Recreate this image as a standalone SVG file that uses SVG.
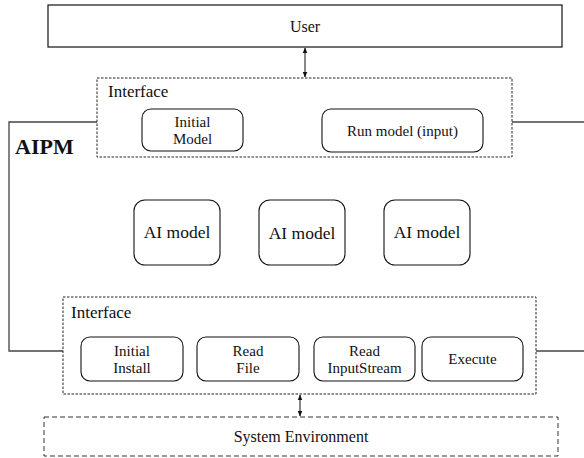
<svg xmlns="http://www.w3.org/2000/svg" width="584" height="458" viewBox="0 0 584 458">
<defs>
<style>
text{font-family:"Liberation Serif","Times New Roman","DejaVu Serif",serif;fill:#111;text-anchor:middle}
.box{fill:#fff;stroke:#111;stroke-width:1.2}
.rbox{fill:#fff;stroke:#111;stroke-width:1.1}
.dash{fill:none;stroke:#222;stroke-width:1;stroke-dasharray:2.5 1.5}
.dash2{fill:none;stroke:#333;stroke-width:1;stroke-dasharray:5 3}
.frame{fill:none;stroke:#444;stroke-width:1.3}
.conn{stroke:#111;stroke-width:1;fill:none;marker-start:url(#ah);marker-end:url(#ah)}
.lbl{font-size:15px}
.ai{font-size:17.5px}
.ifl{font-size:17px;text-anchor:start}
</style>
<marker id="ah" viewBox="0 0 10 10" refX="9" refY="5" markerWidth="6" markerHeight="6" orient="auto-start-reverse" markerUnits="userSpaceOnUse">
<path d="M0,1 L10,5 L0,9 z" fill="#111"/>
</marker>
</defs>
<rect width="584" height="458" fill="#fff"/>
<g font-family="Liberation Serif, Times New Roman, serif">

<g id="aipm-frame">
<path class="frame" d="M97,122 H9 V351 H63"/>
<path class="frame" d="M512,122 H584"/>
<path class="frame" d="M536,351 H584"/>
<text x="15" y="154" style="font-size:22px;font-weight:bold;text-anchor:start">AIPM</text>
</g>

<g id="user">
<rect class="box" x="48" y="5" width="514" height="42"/>
<text class="lbl" x="305" y="31.5" style="font-size:16px">User</text>
</g>

<g id="interface-top">
<rect class="dash" x="97" y="78" width="415" height="79"/>
<text class="ifl" x="108" y="97">Interface</text>
</g>
<g id="initial-model">
<rect class="rbox" x="142" y="109" width="101" height="42" rx="9"/>
<text class="lbl" x="192.5" y="126.5">Initial</text>
<text class="lbl" x="192.5" y="143.5">Model</text>
</g>
<g id="run-model">
<rect class="rbox" x="322" y="109" width="161" height="43" rx="9"/>
<text class="lbl" x="402.5" y="136">Run model (input)</text>
</g>

<g id="ai-model-1">
<rect class="rbox" x="134" y="200" width="86" height="65" rx="11"/>
<text class="ai" x="177" y="238">AI model</text>
</g>
<g id="ai-model-2">
<rect class="rbox" x="259" y="200" width="86" height="65" rx="11"/>
<text class="ai" x="302" y="239">AI model</text>
</g>
<g id="ai-model-3">
<rect class="rbox" x="384" y="200" width="86" height="65" rx="11"/>
<text class="ai" x="427" y="238">AI model</text>
</g>

<g id="interface-bottom">
<rect class="dash" x="63" y="297" width="473" height="97"/>
<text class="ifl" x="71" y="318">Interface</text>
</g>
<g id="initial-install">
<rect class="rbox" x="81" y="337" width="102" height="44" rx="9"/>
<text class="lbl" x="132" y="355.5">Initial</text>
<text class="lbl" x="132" y="372.5">Install</text>
</g>
<g id="read-file">
<rect class="rbox" x="197" y="337" width="102" height="44" rx="9"/>
<text class="lbl" x="248" y="355.5">Read</text>
<text class="lbl" x="248" y="372.5">File</text>
</g>
<g id="read-inputstream">
<rect class="rbox" x="314" y="337" width="101" height="44" rx="9"/>
<text class="lbl" x="364.5" y="355.5">Read</text>
<text class="lbl" x="364.5" y="372.5">InputStream</text>
</g>
<g id="execute">
<rect class="rbox" x="422" y="337" width="101" height="44" rx="9"/>
<text class="lbl" x="472.5" y="364">Execute</text>
</g>

<g id="system-environment">
<rect class="dash2" x="44" y="417" width="514" height="39"/>
<text x="301" y="442" style="font-size:16px">System Environment</text>
</g>

<g id="connectors">
<line class="conn" x1="305" y1="48" x2="305" y2="77"/>
<line class="conn" x1="300" y1="395" x2="300" y2="416"/>
</g>
</g>
</svg>
